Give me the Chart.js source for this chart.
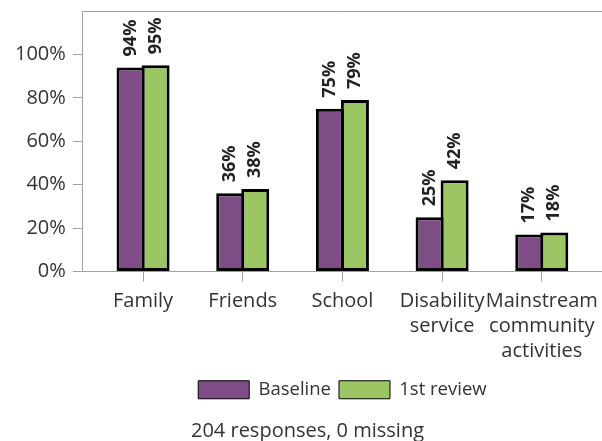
<!DOCTYPE html>
<html>
<head>
<meta charset="utf-8">
<script src="https://cdn.jsdelivr.net/npm/chart.js@4"></script>
<style>
  html, body { margin: 0; background: #fff; }
  #wrap { width: 602px; height: 441px; }
</style>
</head>
<body>
<div id="wrap"><canvas id="chart"></canvas></div>
<script>
const categories = ["Family", "Friends", "School", ["Disability", "service"], ["Mainstream", "community", "activities"]];
const baseline = [94, 36, 75, 25, 17];
const firstReview = [95, 38, 79, 42, 18];
const seriesNames = ["Baseline", "1st review"];
const seriesColors = ["#7e4d86", "#9cc563"];
const caption = "204 responses, 0 missing";

const FONT = "'Open Sans', sans-serif";
const AXIS_GREY = "#a0a0a0";
const RIGHT_OVERHANG = -5; // plot box runs a little past the right edge

// vertical % labels above each bar
const barLabels = {
  id: "barLabels",
  afterDatasetsDraw(chart) {
    const ctx = chart.ctx;
    ctx.save();
    ctx.font = `bold 18px ${FONT}`;
    ctx.fillStyle = "#222";
    ctx.textAlign = "left";
    ctx.textBaseline = "middle";
    chart.data.datasets.forEach((ds, i) => {
      chart.getDatasetMeta(i).data.forEach((bar, j) => {
        ctx.save();
        ctx.translate(bar.x, bar.y - 11);
        ctx.rotate(-Math.PI / 2);
        ctx.fillText(ds.data[j] + "%", 0, 0);
        ctx.restore();
      });
    });
    ctx.restore();
  }
};

// categories sit a little inside the plot box, like the original
const xInset = {
  id: "xInset",
  afterLayout(chart) {
    const x = chart.scales.x;
    const pad = (x.right - x.left) * 0.02;
    x._startPixel = x.left + pad;
    x._endPixel = x.right - pad;
    x._length = x._endPixel - x._startPixel;
  }
};

// top edge of the plot box
const topFrame = {
  id: "topFrame",
  afterDraw(chart) {
    const { ctx, chartArea } = chart;
    ctx.save();
    ctx.strokeStyle = AXIS_GREY;
    ctx.lineWidth = 1;
    ctx.beginPath();
    ctx.moveTo(chartArea.left, Math.round(chartArea.top) + 0.5);
    ctx.lineTo(chart.width, Math.round(chartArea.top) + 0.5);
    ctx.stroke();
    ctx.restore();
  }
};

new Chart(document.getElementById("chart"), {
  type: "bar",
  data: {
    labels: categories,
    datasets: [
      { label: seriesNames[0], data: baseline, backgroundColor: seriesColors[0] },
      { label: seriesNames[1], data: firstReview, backgroundColor: seriesColors[1] }
    ].map(ds => ({
      ...ds,
      borderColor: "#000",
      borderWidth: 3,
      borderSkipped: false,
      categoryPercentage: 0.502,
      barPercentage: 1.12
    }))
  },
  options: {
    responsive: true,
    maintainAspectRatio: false,
    animation: false,
    layout: { padding: { top: 11, left: 8, right: RIGHT_OVERHANG, bottom: -2 } },
    scales: {
      x: {
        afterFit: s => { s.height += 2; s.paddingLeft = 0; s.paddingRight = RIGHT_OVERHANG; },
        grid: { offset: false, drawOnChartArea: false, drawTicks: true, tickLength: 10, color: AXIS_GREY },
        border: { color: AXIS_GREY },
        ticks: { font: { family: FONT, size: 20, lineHeight: 1.25 }, color: "#333", padding: 7, maxRotation: 0, autoSkip: false }
      },
      y: {
        min: 0,
        max: 120,
        afterBuildTicks: scale => { scale.ticks = scale.ticks.filter(t => t.value <= 100); },
        afterFit: s => { s.paddingTop = 0; s.paddingBottom = 0; },
        grid: { drawOnChartArea: false, drawTicks: true, tickLength: 10, color: AXIS_GREY },
        border: { color: AXIS_GREY },
        ticks: { stepSize: 20, callback: v => v + "%", font: { family: FONT, size: 20 }, color: "#333", padding: 7 }
      }
    },
    plugins: {
      legend: {
        position: "bottom",
        fullSize: false,
        labels: {
          boxWidth: 51,
          boxHeight: 18,
          padding: 8,
          color: "#333",
          font: { family: FONT, size: 18.5 },
          generateLabels(chart) {
            return Chart.defaults.plugins.legend.labels.generateLabels(chart).map(l => ({ ...l, lineWidth: 1, strokeStyle: "#000" }));
          }
        }
      },
      title: {
        display: true,
        position: "bottom",
        text: caption,
        color: "#333",
        font: { family: FONT, size: 20, weight: "normal" },
        padding: { top: 10, bottom: 0 }
      },
      tooltip: { enabled: false }
    }
  },
  plugins: [barLabels, xInset, topFrame]
});
</script>
</body>
</html>
